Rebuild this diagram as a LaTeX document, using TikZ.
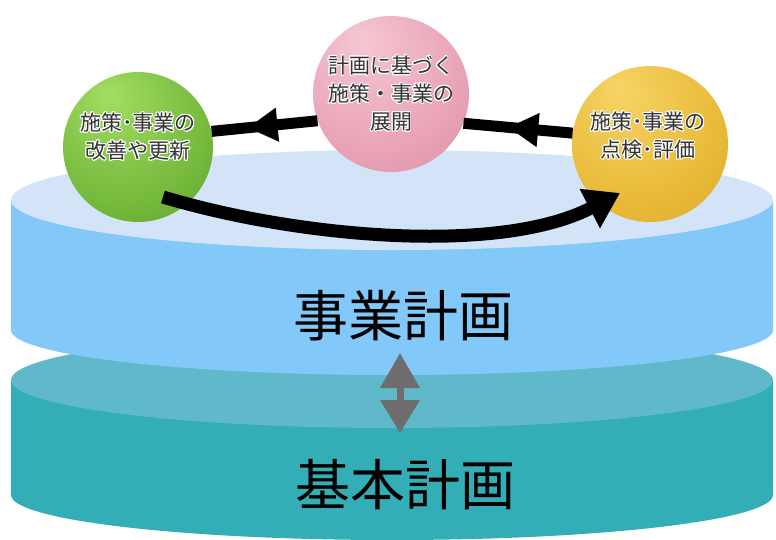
\documentclass[tikz,border=0pt]{standalone}
\usepackage{fontspec}
\newfontfamily\jpfont{Noto Sans CJK JP}
\usepackage[copies]{contour}
\contourlength{0.9pt}
\usetikzlibrary{arrows.meta,decorations.markings}

\definecolor{topface}{HTML}{D3E4F9}
\definecolor{topbody}{HTML}{82C8F9}
\definecolor{baseface}{HTML}{60B9CB}
\definecolor{basebody}{HTML}{33AEB6}
\definecolor{arrowgray}{HTML}{6D6D6D}
\definecolor{greenhi}{HTML}{A2DE62}
\definecolor{greenmid}{HTML}{74B83C}
\definecolor{greenlo}{HTML}{5A9A2C}
\definecolor{greenrim}{HTML}{2F6A16}
\definecolor{pinkhi}{HTML}{F6C6D3}
\definecolor{pinkmid}{HTML}{E8A2B5}
\definecolor{pinklo}{HTML}{D68A9C}
\definecolor{pinkrim}{HTML}{A65C6C}
\definecolor{yellowhi}{HTML}{F6D466}
\definecolor{yellowmid}{HTML}{E8B936}
\definecolor{yellowlo}{HTML}{D6A226}
\definecolor{yellowrim}{HTML}{9E7212}

\pgfdeclareradialshading{greenball}{\pgfpoint{-10bp}{18bp}}{color(0bp)=(greenhi); color(30bp)=(greenmid); color(50bp)=(greenlo); color(70bp)=(greenrim)}
\pgfdeclareradialshading{pinkball}{\pgfpoint{-10bp}{18bp}}{color(0bp)=(pinkhi); color(30bp)=(pinkmid); color(50bp)=(pinklo); color(70bp)=(pinkrim)}
\pgfdeclareradialshading{yellowball}{\pgfpoint{-10bp}{18bp}}{color(0bp)=(yellowhi); color(30bp)=(yellowmid); color(50bp)=(yellowlo); color(70bp)=(yellowrim)}

\newcommand{\glow}[1]{\contour{white}{#1}}

\begin{document}
\begin{tikzpicture}[x=1pt, y=1pt,
  ball/.style={circle, inner sep=0pt, minimum size=#1},
  balltext/.style={align=center, text=black!80, font=\jpfont\fontsize{21}{28}\selectfont},
  bigtext/.style={text=black, font=\jpfont\fontsize{55}{60}\selectfont},
  looparrow/.style={line width=11pt, postaction={decorate},
    decoration={markings, mark=at position #1 with {\arrow{Triangle[length=30pt,width=32pt]}}}},
  backarrow/.style={line width=13pt, -{Triangle[length=34pt,width=42pt]}},
  updown/.style={arrowgray, line width=7pt, {Triangle[length=35pt,width=38pt]}-{Triangle[length=33pt,width=38pt]}}]
  \useasboundingbox (0,0) rectangle (776,-539);

  % lower disk
  \fill[basebody] (11,-380) -- (11,-495) arc[start angle=180, end angle=360, x radius=381, y radius=45] -- (773,-380) -- cycle;
  \fill[baseface] (392,-380) ellipse[x radius=381, y radius=48];
  % upper disk
  \fill[topbody] (11,-200) -- (11,-330) arc[start angle=180, end angle=360, x radius=381, y radius=45] -- (773,-200) -- cycle;
  \fill[topface] (392,-200) ellipse[x radius=381, y radius=50];

  \node[bigtext] (jigyo) at (403,-316) {事業計画};
  \node[bigtext] (kihon) at (405,-485) {基本計画};
  \coordinate (updown top) at (400,-353);
  \coordinate (updown bottom) at (400,-433);
  \draw[updown] (updown top) -- (updown bottom);

  % the three balls
  \node[ball=150pt, shading=greenball] (green) at (138,-147) {};
  \node[ball=156pt, shading=pinkball] (pink) at (391,-94) {};
  \node[ball=156pt, shading=yellowball] (yellow) at (650,-144) {};

  \node[balltext] (green text) at ([yshift=10pt]green.center) {\glow{施策･事業の}\\\glow{改善や更新}};
  \node[balltext] (pink text) at (pink.center) {\glow{計画に基づく}\\\glow{施策・事業の}\\\glow{展開}};
  \node[balltext] (yellow text) at ([xshift=-2pt,yshift=8pt]yellow.center) {\glow{施策･事業の}\\\glow{点検･評価}};

  \draw[looparrow=0.66] (pink.200) -- (green.12);
  \draw[looparrow=0.59] (yellow.172) -- (pink.-22);
  \draw[backarrow] ([xshift=25pt,yshift=-50pt]green.center) .. controls (300,-238) and (500,-255) .. ([xshift=-30pt,yshift=-49pt]yellow.center);
\end{tikzpicture}
\end{document}
